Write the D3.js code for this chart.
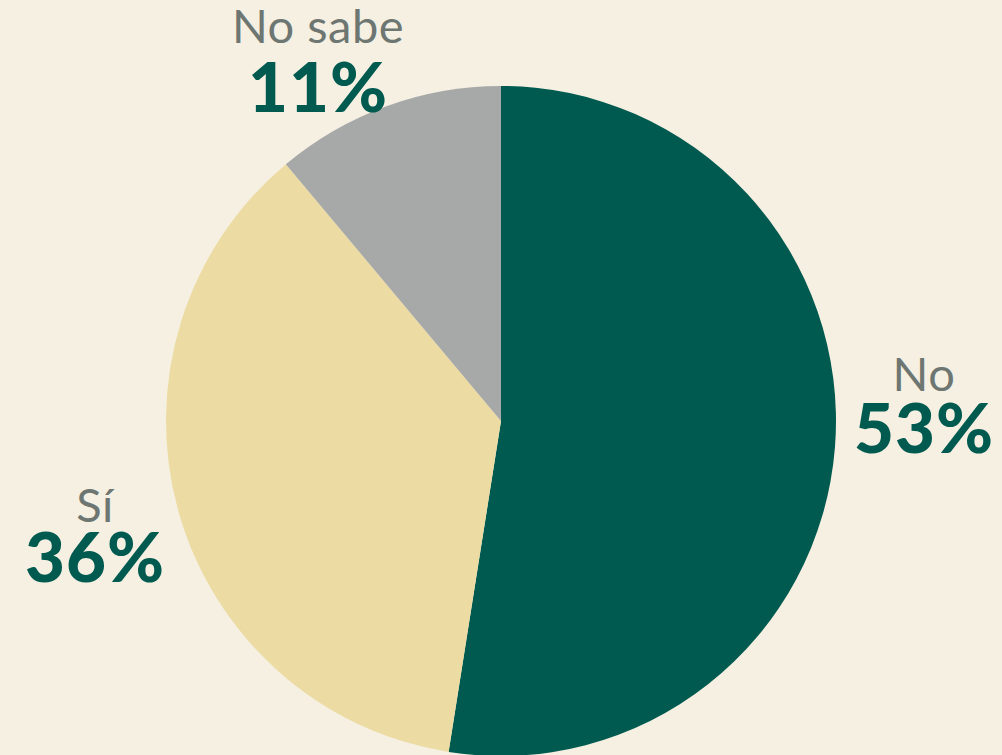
<!DOCTYPE html>
<html>
<head>
<meta charset="utf-8">
<title>Encuesta</title>
<style>
  html, body { margin: 0; padding: 0; background: #f5f0e2; }
  svg { display: block; }
</style>
</head>
<body>
<svg></svg>
<script src="https://d3js.org/d3.v7.min.js"></script>
<script>
// data (slice sizes), labels as printed
const categories = ["No", "Sí", "No sabe"];
const values = [52.5, 36.4, 11.1];
const percentLabels = ["53%", "36%", "11%"];
const colors = ["#005a4f", "#ecdca4", "#a7a8a8"];

const width = 1002, height = 755;
const cx = 501, cy = 421, radius = 335;

// label placement, relative to the pie centre: [dx, name baseline dy, value baseline dy]
const labelSpots = {
  "No":      [423, -30, 32],
  "Sí":      [-406, 101, 161],
  "No sabe": [-183, -378, -309]
};

const svg = d3.select("svg").attr("width", width).attr("height", height);

svg.append("rect").attr("width", width).attr("height", height).attr("fill", "#f5f0e2");

const pie = d3.pie().sort(null).value(d => d.value);
const arc = d3.arc().innerRadius(0).outerRadius(radius);

const rows = categories.map((c, i) => ({ name: c, value: values[i], label: percentLabels[i], color: colors[i] }));

const g = svg.append("g").attr("transform", `translate(${cx},${cy})`);

g.selectAll("path")
  .data(pie(rows))
  .enter().append("path")
  .attr("d", arc)
  .attr("fill", d => d.data.color);

const labels = g.selectAll("g.lbl")
  .data(rows)
  .enter().append("g")
  .attr("class", "lbl")
  .attr("transform", d => `translate(${labelSpots[d.name][0]},0)`);

labels.append("text")
  .attr("y", d => labelSpots[d.name][1])
  .attr("text-anchor", "middle")
  .style("font-family", "Lato, 'Open Sans', sans-serif")
  .style("font-size", "47px")
  .style("letter-spacing", "0.5px")
  .style("fill", "#6e7672")
  .text(d => d.name);

labels.append("text")
  .attr("y", d => labelSpots[d.name][2])
  .attr("text-anchor", "middle")
  .style("font-family", "Lato, 'Open Sans', sans-serif")
  .style("font-weight", "900")
  .style("font-size", "69px")
  .style("letter-spacing", "1px")
  .style("fill", "#005a4f")
  .text(d => d.label);
</script>
</body>
</html>
